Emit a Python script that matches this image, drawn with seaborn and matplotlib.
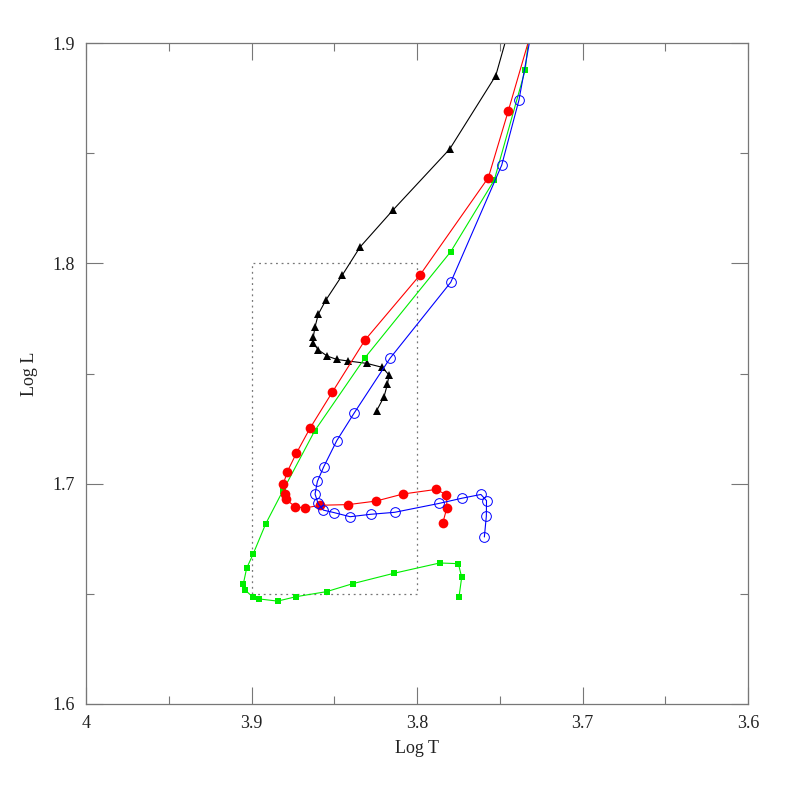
import matplotlib
matplotlib.use("Agg")
import matplotlib.pyplot as plt
import seaborn as sns
import numpy as np
from matplotlib.ticker import MultipleLocator

# Track data (Log T, Log L)
black_T = [3.8244, 3.8199, 3.8179, 3.8169, 3.8210, 3.8304, 3.8419, 3.8485, 3.8542, 3.8596,
           3.8627, 3.8627, 3.8616, 3.8596, 3.8550, 3.8451, 3.8344, 3.8145, 3.7802, 3.7524, 3.7378]
black_L = [1.7331, 1.7395, 1.7451, 1.7493, 1.7528, 1.7546, 1.7557, 1.7564, 1.7579, 1.7607,
           1.7637, 1.7664, 1.7712, 1.7770, 1.7834, 1.7947, 1.8074, 1.8242, 1.8519, 1.8852, 1.9240]

red_T = [3.7845, 3.7819, 3.7822, 3.7884, 3.8085, 3.8248, 3.8415, 3.8586, 3.8675, 3.8735,
         3.8793, 3.8798, 3.8808, 3.8784, 3.8729, 3.8647, 3.8512, 3.8314, 3.7982, 3.7569, 3.7448, 3.7254]
red_L = [1.6820, 1.6891, 1.6949, 1.6974, 1.6953, 1.6921, 1.6905, 1.6902, 1.6890, 1.6895,
         1.6929, 1.6953, 1.6997, 1.7054, 1.7138, 1.7251, 1.7415, 1.7652, 1.7947, 1.8389, 1.8693, 1.9195]

green_T = [3.7746, 3.7730, 3.7750, 3.7863, 3.8141, 3.8389, 3.8546, 3.8731, 3.8842, 3.8956,
           3.8993, 3.9037, 3.9050, 3.9029, 3.8991, 3.8914, 3.8811, 3.8618, 3.8314, 3.7796,
           3.7533, 3.7346, 3.7282]
green_L = [1.6487, 1.6575, 1.6637, 1.6640, 1.6593, 1.6546, 1.6510, 1.6487, 1.6467, 1.6477,
           1.6486, 1.6516, 1.6543, 1.6617, 1.6679, 1.6818, 1.6967, 1.7240, 1.7572, 1.8053,
           1.8378, 1.8878, 1.9318]

blue_T = [3.7593, 3.7581, 3.7580, 3.7614, 3.7728, 3.7869, 3.8135, 3.8280, 3.8404, 3.8503,
          3.8566, 3.8598, 3.8616, 3.8602, 3.8564, 3.8485, 3.8381, 3.8163, 3.7796, 3.7488,
          3.7384, 3.7274]
blue_L = [1.6758, 1.6853, 1.6923, 1.6951, 1.6934, 1.6910, 1.6870, 1.6861, 1.6850, 1.6869,
          1.6880, 1.6910, 1.6953, 1.7010, 1.7076, 1.7195, 1.7319, 1.7569, 1.7914, 1.8446,
          1.8741, 1.9195]

box_T = [3.9, 3.8, 3.8, 3.9, 3.9]
box_L = [1.65, 1.65, 1.80, 1.80, 1.65]

x_ticks = [4.0, 3.9, 3.8, 3.7, 3.6]
x_ticklabels = ["4", "3.9", "3.8", "3.7", "3.6"]
y_ticks = [1.6, 1.7, 1.8, 1.9]
y_ticklabels = ["1.6", "1.7", "1.8", "1.9"]

sns.set_theme(style="white")
plt.rcParams['font.family'] = ['Liberation Serif', 'DejaVu Serif']

fig = plt.figure(figsize=(7.89, 7.89), dpi=100)
ax = fig.add_axes([86/789, 85/789, 662/789, 661/789])

sns.lineplot(x=box_T, y=box_L, sort=False, estimator=None, ax=ax, color="#777777",
             linestyle=(0, (1.5, 3)), linewidth=0.9)

sns.lineplot(x=black_T, y=black_L, sort=False, estimator=None, ax=ax, color="black",
             linewidth=0.8, marker="^", markersize=6, markeredgewidth=0)
sns.lineplot(x=green_T, y=green_L, sort=False, estimator=None, ax=ax, color="#00ee00",
             linewidth=0.8, marker="s", markersize=4.8, markeredgewidth=0)
sns.lineplot(x=red_T, y=red_L, sort=False, estimator=None, ax=ax, color="red",
             linewidth=0.8, marker="o", markersize=7, markeredgewidth=0)
sns.lineplot(x=blue_T, y=blue_L, sort=False, estimator=None, ax=ax, color="blue",
             linewidth=0.8, marker="o", markersize=7, markerfacecolor="none",
             markeredgecolor="blue", markeredgewidth=0.7)

ax.set_xlim(4.0, 3.6)
ax.set_ylim(1.6, 1.9)
ax.set_xticks(x_ticks)
ax.set_xticklabels(x_ticklabels)
ax.set_yticks(y_ticks)
ax.set_yticklabels(y_ticklabels)
ax.xaxis.set_minor_locator(MultipleLocator(0.05))
ax.yaxis.set_minor_locator(MultipleLocator(0.05))
ax.tick_params(which="major", direction="in", length=12, width=0.8, color="#777777",
               top=True, right=True, bottom=True, left=True, labelsize=13, pad=8,
               labelcolor="#222222")
ax.tick_params(which="minor", direction="in", length=6, width=0.8, color="#777777",
               top=True, right=True, bottom=True, left=True)
for s in ax.spines.values():
    s.set_color("#777777")
    s.set_linewidth(0.9)

ax.set_xlabel("Log T", fontsize=13, color="#222222", labelpad=6)
ax.set_ylabel("Log L", fontsize=13, color="#222222", labelpad=10)
ax.grid(False)

fig.savefig("out.png", dpi=100)
